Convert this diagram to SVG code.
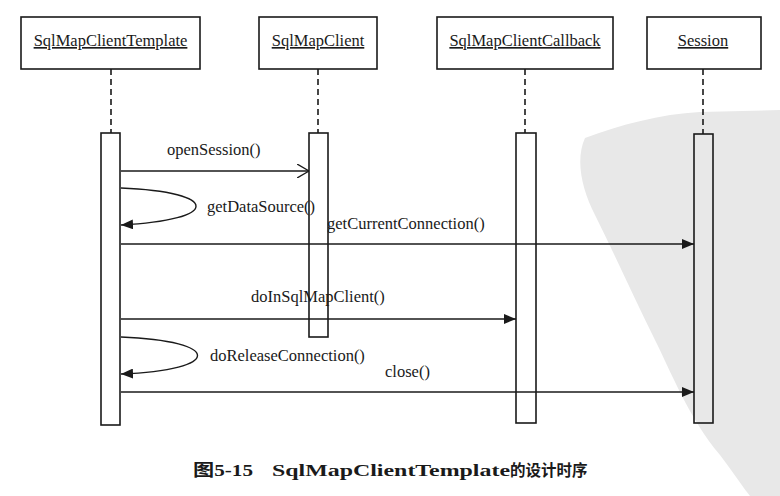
<svg xmlns="http://www.w3.org/2000/svg" width="780" height="496" viewBox="0 0 780 496">
<style>
  .box { fill: #ffffff; stroke: #1a1a1a; stroke-width: 1.6; }
  .bar { fill: #ffffff; stroke: #1a1a1a; stroke-width: 1.6; }
  .life { stroke: #1a1a1a; stroke-width: 1.6; stroke-dasharray: 6 4; fill: none; }
  .msg { stroke: #1a1a1a; stroke-width: 1.4; fill: none; }
  .hdr { font-family: 'Liberation Serif', 'Times New Roman', 'DejaVu Serif', serif; font-size: 16.5px; fill: #1a1a1a; text-anchor: middle; text-decoration: underline; }
  .lbl { font-family: 'Liberation Serif', 'Times New Roman', 'DejaVu Serif', serif; font-size: 16.5px; fill: #1a1a1a; }
  .cap { font-family: 'Liberation Serif', 'Noto Sans CJK SC', serif; font-size: 17px; font-weight: bold; fill: #1a1a1a; }
  .capzh { font-family: 'Noto Sans CJK SC', sans-serif; font-size: 15.5px; font-weight: bold; }
</style>
<defs>
  <marker id="filled" viewBox="0 0 12 10" refX="12" refY="5" markerWidth="12" markerHeight="10" markerUnits="userSpaceOnUse" orient="auto">
    <path d="M0,0 L12,5 L0,10 Z" fill="#1a1a1a"/>
  </marker>
  <marker id="open" viewBox="0 0 12 14" refX="12" refY="7" markerWidth="12" markerHeight="14" markerUnits="userSpaceOnUse" orient="auto">
    <path d="M0,0 L12,7 L0,14" fill="none" stroke="#1a1a1a" stroke-width="1.4"/>
  </marker>
</defs>
<rect width="780" height="496" fill="#ffffff"/>
<path d="M780,110 L700,112 C660,114 620,125 585,138 C575,160 582,190 595,215 C615,255 635,300 655,340 C670,370 690,420 720,455 C735,475 745,490 750,496 L780,496 Z" fill="#e8e8e8"/>

<g id="node-template">
  <rect class="box" x="21" y="17" width="179" height="52"/>
  <text class="hdr" x="110.5" y="46">SqlMapClientTemplate</text>
  <line class="life" x1="111" y1="69" x2="111" y2="133"/>
  <rect class="bar" x="101" y="133" width="19" height="292"/>
</g>
<g id="node-client">
  <rect class="box" x="259" y="17" width="118" height="52"/>
  <text class="hdr" x="318" y="46">SqlMapClient</text>
  <line class="life" x1="318" y1="69" x2="318" y2="133"/>
  <rect class="bar" x="309" y="133" width="19" height="204"/>
</g>
<g id="node-callback">
  <rect class="box" x="437" y="17" width="176" height="52"/>
  <text class="hdr" x="525" y="46">SqlMapClientCallback</text>
  <line class="life" x1="525" y1="69" x2="525" y2="133"/>
  <rect class="bar" x="516" y="133" width="20" height="290"/>
</g>
<g id="node-session">
  <rect class="box" x="647" y="17" width="114" height="52"/>
  <text class="hdr" x="703" y="46">Session</text>
  <line class="life" x1="703" y1="69" x2="703" y2="134"/>
  <rect class="bar" x="694" y="134" width="19" height="289" style="fill:none"/>
</g>

<g id="connectors">
  <line class="msg" x1="121" y1="171" x2="309" y2="171" marker-end="url(#open)"/>
  <path class="msg" d="M121,188 C221,192 221,220 121,225" marker-end="url(#filled)"/>
  <line class="msg" x1="121" y1="244" x2="694" y2="244" marker-end="url(#filled)"/>
  <line class="msg" x1="121" y1="319" x2="516" y2="319" marker-end="url(#filled)"/>
  <path class="msg" d="M121,337 C223,341 223,370 121,374" marker-end="url(#filled)"/>
  <line class="msg" x1="121" y1="392" x2="694" y2="392" marker-end="url(#filled)"/>
</g>

<g id="labels">
  <text class="lbl" x="167" y="155">openSession()</text>
  <text class="lbl" x="207" y="212">getDataSource()</text>
  <text class="lbl" x="327" y="229">getCurrentConnection()</text>
  <text class="lbl" x="251" y="302">doInSqlMapClient()</text>
  <text class="lbl" x="210" y="361">doReleaseConnection()</text>
  <text class="lbl" x="385" y="377">close()</text>
</g>

<text class="cap" y="476"><tspan x="193" textLength="60" lengthAdjust="spacingAndGlyphs">图5-15</tspan><tspan x="272" textLength="238" lengthAdjust="spacingAndGlyphs">SqlMapClientTemplate</tspan><tspan class="capzh" x="510">的设计时序</tspan></text>
</svg>
